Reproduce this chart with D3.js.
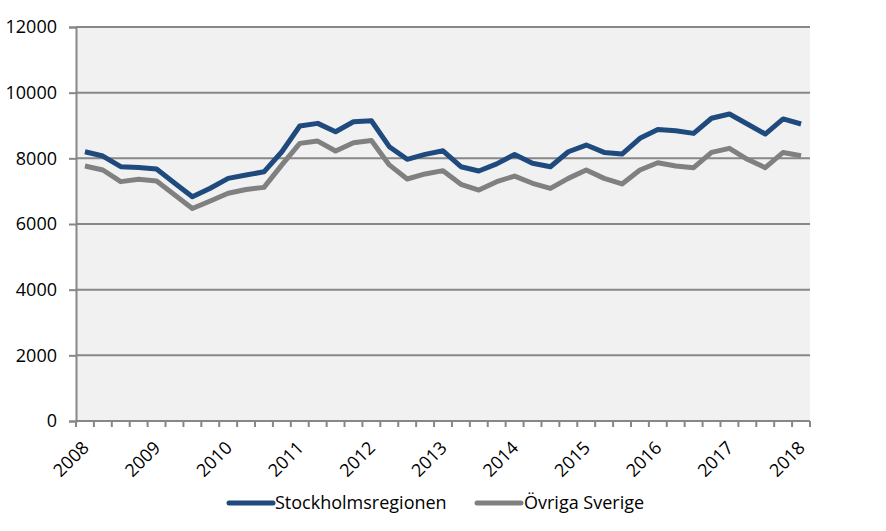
<!DOCTYPE html>
<html>
<head>
<meta charset="utf-8">
<script src="https://cdn.jsdelivr.net/npm/d3@7"></script>
<style>
  html, body { margin: 0; padding: 0; background: #ffffff; }
  svg { display: block; }
  text { font-family: "Open Sans", "Liberation Sans", sans-serif; fill: #000; }
</style>
</head>
<body>
<svg id="chart" width="886" height="531"></svg>
<script>
// ---- data ----
const categories = [
  "2008K1","2008K2","2008K3","2008K4",
  "2009K1","2009K2","2009K3","2009K4",
  "2010K1","2010K2","2010K3","2010K4",
  "2011K1","2011K2","2011K3","2011K4",
  "2012K1","2012K2","2012K3","2012K4",
  "2013K1","2013K2","2013K3","2013K4",
  "2014K1","2014K2","2014K3","2014K4",
  "2015K1","2015K2","2015K3","2015K4",
  "2016K1","2016K2","2016K3","2016K4",
  "2017K1","2017K2","2017K3","2017K4",
  "2018K1"
];
const stockholm = [
  8200, 8070, 7745, 7720, 7675, 7250, 6830, 7090, 7390, 7490,
  7590, 8200, 8985, 9065, 8810, 9115, 9145, 8355, 7970, 8120,
  8230, 7745, 7615, 7830, 8120, 7850, 7745, 8200, 8405, 8180,
  8130, 8610, 8875, 8840, 8760, 9220, 9350, 9045, 8740, 9200,
  9045
];
const ovriga = [
  7765, 7645, 7290, 7360, 7310, 6890, 6470, 6700, 6935, 7050,
  7115, 7800, 8455, 8525, 8225, 8475, 8540, 7800, 7370, 7525,
  7625, 7210, 7035, 7290, 7460, 7240, 7085, 7390, 7645, 7390,
  7220, 7645, 7865, 7765, 7715, 8180, 8305, 7970, 7715, 8180,
  8080
];
const yTicks = [0, 2000, 4000, 6000, 8000, 10000, 12000];
const yearLabels = ["2008","2009","2010","2011","2012","2013","2014","2015","2016","2017","2018"];
const seriesNames = ["Stockholmsregionen", "Övriga Sverige"];
const seriesColors = ["#1f4a7e", "#808080"];

// ---- layout ----
const svg = d3.select("#chart");
const pLeft = 76, pRight = 810, pTop = 27, pBottom = 421;

const x = d3.scaleBand().domain(d3.range(categories.length)).range([pLeft, pRight]).paddingInner(0).paddingOuter(0);
const y = d3.scaleLinear().domain([0, 12000]).range([pBottom, pTop]);
const cx = i => x(i) + x.bandwidth() / 2;

// plot background
svg.append("rect")
  .attr("x", pLeft).attr("y", pTop)
  .attr("width", pRight - pLeft).attr("height", pBottom - pTop)
  .attr("fill", "#f1f1f1");

// gridlines
svg.append("g").selectAll("line")
  .data(yTicks.filter(d => d > 0))
  .join("line")
  .attr("x1", pLeft).attr("x2", pRight)
  .attr("y1", d => y(d)).attr("y2", d => y(d))
  .attr("stroke", "#878787").attr("stroke-width", 2);

// y axis
const yAxis = d3.axisLeft(y).tickValues(yTicks).tickSize(7).tickPadding(12).tickFormat(d3.format("d"));
const gy = svg.append("g").attr("transform", `translate(${pLeft},0)`).call(yAxis);
gy.select(".domain").attr("stroke", "#878787").attr("stroke-width", 2);
gy.selectAll(".tick line").attr("stroke", "#878787").attr("stroke-width", 2);
gy.selectAll(".tick text").attr("font-size", 18).attr("font-family", "'Open Sans', sans-serif").attr("fill", "#000");

// x axis line
svg.append("line")
  .attr("x1", pLeft).attr("x2", pRight)
  .attr("y1", pBottom).attr("y2", pBottom)
  .attr("stroke", "#878787").attr("stroke-width", 2);

// x ticks at band boundaries
const boundaries = d3.range(categories.length).map(i => x(i)).concat([x.range()[1]]);
svg.append("g").selectAll("line")
  .data(boundaries)
  .join("line")
  .attr("x1", d => d).attr("x2", d => d)
  .attr("y1", pBottom).attr("y2", pBottom + 6)
  .attr("stroke", "#878787").attr("stroke-width", 2);

// x labels (every 4th category)
svg.append("g").selectAll("text")
  .data(yearLabels)
  .join("text")
  .attr("transform", (d, k) => `translate(${cx(k * 4) + 5},${pBottom + 28}) rotate(-45)`)
  .attr("text-anchor", "end")
  .attr("font-size", 18)
  .text(d => d);

// lines
const line = d3.line().x((d, i) => cx(i)).y(d => y(d));
[ovriga, stockholm].forEach((s, k) => {
  const idx = k === 0 ? 1 : 0;
  svg.append("path")
    .datum(s)
    .attr("d", line)
    .attr("fill", "none")
    .attr("stroke", seriesColors[idx])
    .attr("stroke-width", 5)
    .attr("stroke-linejoin", "round");
});

// legend
const legendPos = [{lx: 229, tx: 275}, {lx: 477, tx: 524}];
const lg = svg.append("g");
seriesNames.forEach((name, i) => {
  lg.append("line")
    .attr("x1", legendPos[i].lx).attr("x2", legendPos[i].lx + 44)
    .attr("y1", 503).attr("y2", 503)
    .attr("stroke", seriesColors[i]).attr("stroke-width", 5)
    .attr("stroke-linecap", "round");
  lg.append("text")
    .attr("x", legendPos[i].tx).attr("y", 509)
    .attr("font-size", 18)
    .text(name);
});
</script>
</body>
</html>
